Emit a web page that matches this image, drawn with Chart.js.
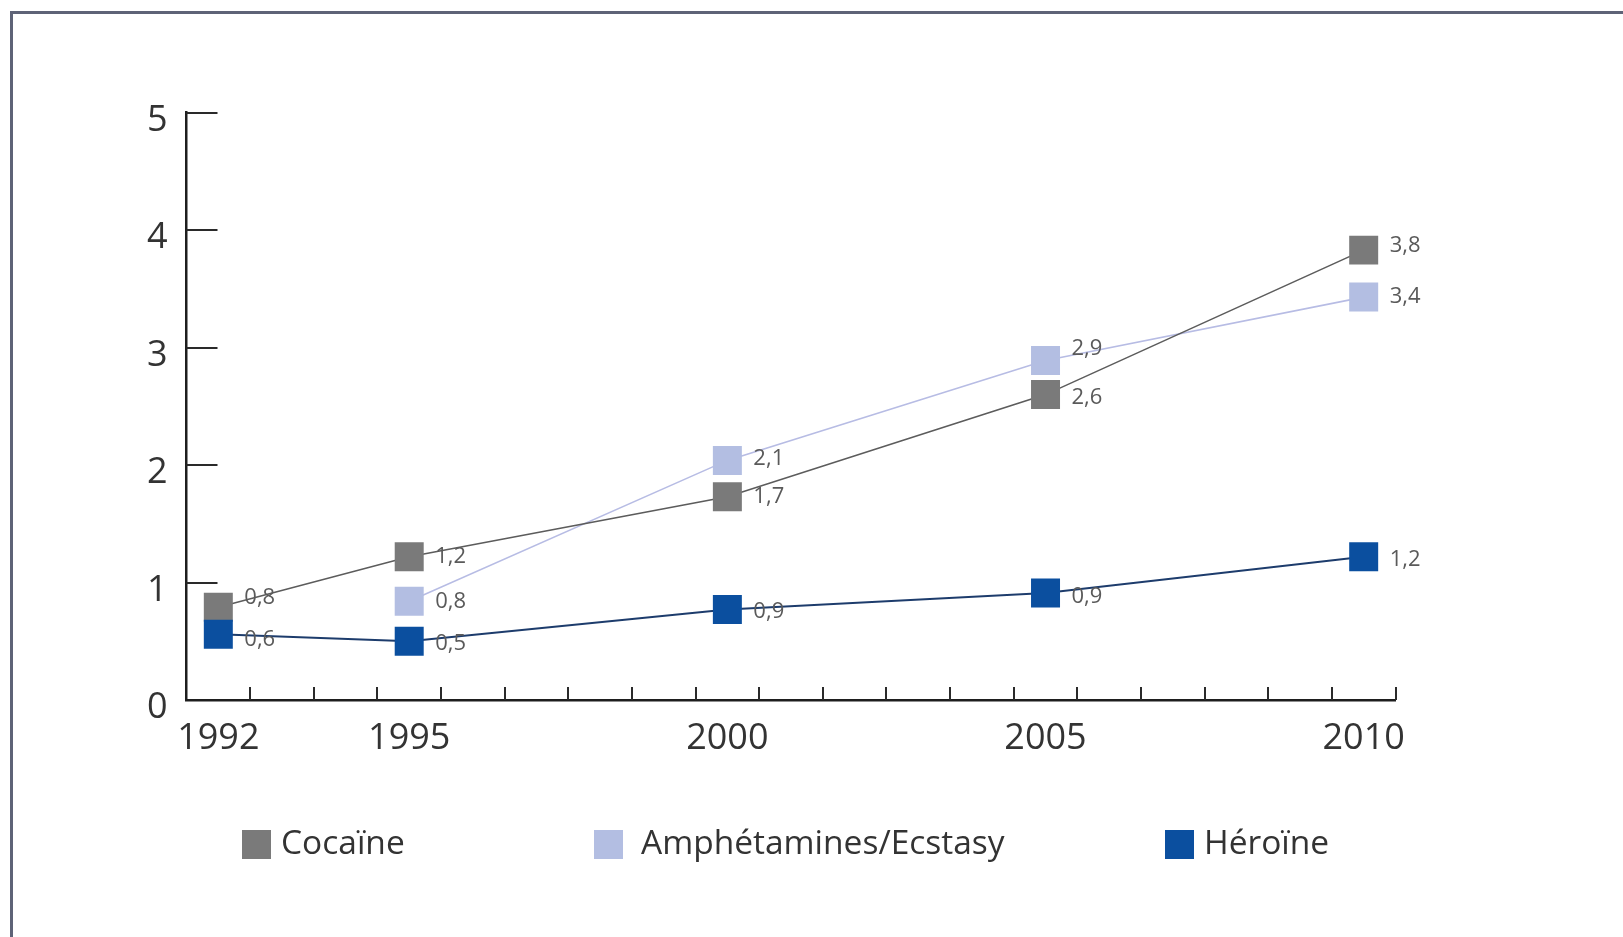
<!DOCTYPE html>
<html lang="fr">
<head>
<meta charset="utf-8">
<title>Cocaïne, Amphétamines/Ecstasy, Héroïne 1992-2010</title>
<script src="https://cdn.jsdelivr.net/npm/chart.js@4.4.1/dist/chart.umd.min.js"></script>
<style>
  html, body { margin: 0; padding: 0; background: #fff; overflow: hidden; }
  #frame {
    position: absolute; left: 10px; top: 11px; width: 1650px; height: 960px;
    border-top: 3px solid #5e6377; border-left: 3px solid #5e6377;
  }
  #wrap { position: absolute; left: 0; top: 0; width: 1623px; height: 937px; }
</style>
</head>
<body>
<div id="frame"></div>
<div id="wrap"><canvas id="chart"></canvas></div>
<script>
// x axis: one slot per year, only a few of them get a label
const years = ['1992', '1993', '1994', '1995', '1996', '1997', '1998', '1999', '2000', '2001',
               '2002', '2003', '2004', '2005', '2006', '2007', '2008', '2009', '2010'];
const shownYears = ['1992', '1995', '2000', '2005', '2010'];
const yTicks = [0, 1, 2, 3, 4, 5];

// series and the figures printed next to each marker
const cocaineYears = ['1992', '1995', '2000', '2005', '2010'];
const cocaine = [0.79, 1.22, 1.73, 2.60, 3.83];
const cocaineText = ['0,8', '1,2', '1,7', '2,6', '3,8'];

const amphYears = ['1995', '2000', '2005', '2010'];
const amphetamines = [0.84, 2.04, 2.89, 3.43];
const amphetaminesText = ['0,8', '2,1', '2,9', '3,4'];

const heroineYears = ['1992', '1995', '2000', '2005', '2010'];
const heroine = [0.56, 0.50, 0.77, 0.91, 1.22];
const heroineText = ['0,6', '0,5', '0,9', '0,9', '1,2'];

// small vertical nudges for the printed figures (px)
const labelNudge = [[-9, 0, 0, 3, -4], [0, -2, -12, 0], [6, 2, 2, 4, 3]];

const FONT = '"Open Sans", "Noto Sans", sans-serif';

function points(xs, ys) {
    return xs.map((x, i) => ({ x: x, y: ys[i] }));
}

// tick marks pointing into the plot
const innerTicks = {
    id: 'innerTicks',
    beforeDatasetsDraw(chart) {
        const { ctx, chartArea, scales: { x, y } } = chart;
        ctx.save();
        ctx.strokeStyle = '#2a2a2a';
        ctx.lineWidth = 2;
        ctx.beginPath();
        yTicks.forEach(v => {
            if (v === 0) return;
            const py = Math.round(y.getPixelForValue(v));
            ctx.moveTo(chartArea.left, py);
            ctx.lineTo(chartArea.left + 31, py);
        });
        const step = x.getPixelForValue(1) - x.getPixelForValue(0);
        years.forEach((yr, i) => {
            const px = Math.round(x.getPixelForValue(i) + step / 2);
            ctx.moveTo(px, chartArea.bottom);
            ctx.lineTo(px, chartArea.bottom - 13);
        });
        ctx.stroke();
        ctx.restore();
    }
};

// printed values right of each marker
const valueLabels = {
    id: 'valueLabels',
    afterDatasetsDraw(chart) {
        const ctx = chart.ctx;
        ctx.save();
        ctx.font = '22px ' + FONT;
        ctx.fillStyle = '#5a5a5a';
        ctx.textAlign = 'left';
        ctx.textBaseline = 'middle';
        chart.data.datasets.forEach((ds, di) => {
            chart.getDatasetMeta(di).data.forEach((pt, i) => {
                ctx.fillText(ds.valueText[i], pt.x + 26, pt.y + labelNudge[di][i]);
            });
        });
        ctx.restore();
    }
};

// legend row under the axis
const bottomLegend = {
    id: 'bottomLegend',
    afterDraw(chart) {
        const ctx = chart.ctx;
        const starts = [242, 594, 1165];
        const textGap = [39, 47, 39];
        const cy = 844;
        ctx.save();
        ctx.font = '33.5px ' + FONT;
        ctx.textAlign = 'left';
        ctx.textBaseline = 'middle';
        chart.data.datasets.forEach((ds, i) => {
            ctx.fillStyle = ds.pointBackgroundColor;
            ctx.fillRect(starts[i], cy - 14, 29, 29);
            ctx.fillStyle = '#333';
            ctx.fillText(ds.label, starts[i] + textGap[i], cy);
        });
        ctx.restore();
    }
};

function draw() {
    const ctx = document.getElementById('chart').getContext('2d');
    new Chart(ctx, {
        type: 'line',
        data: {
            labels: years,
            datasets: [
                {
                    label: 'Cocaïne',
                    data: points(cocaineYears, cocaine),
                    valueText: cocaineText,
                    borderColor: '#5c5c5c',
                    borderWidth: 1.6,
                    pointBackgroundColor: '#7a7a7a',
                    pointBorderWidth: 0,
                    order: 1
                },
                {
                    label: 'Amphétamines/Ecstasy',
                    data: points(amphYears, amphetamines),
                    valueText: amphetaminesText,
                    borderColor: '#b7bce4',
                    borderWidth: 1.6,
                    pointBackgroundColor: '#b3bee2',
                    pointBorderWidth: 0,
                    order: 2
                },
                {
                    label: 'Héroïne',
                    data: points(heroineYears, heroine),
                    valueText: heroineText,
                    borderColor: '#1d3c6c',
                    borderWidth: 2,
                    pointBackgroundColor: '#0b4f9f',
                    pointBorderWidth: 0,
                    order: 0
                }
            ]
        },
        options: {
            responsive: true,
            maintainAspectRatio: false,
            animation: false,
            spanGaps: true,
            elements: {
                line: { tension: 0, fill: false },
                point: { pointStyle: 'rect', radius: 20.5, borderWidth: 0, hoverRadius: 20.5, hoverBorderWidth: 0 }
            },
            layout: { padding: { left: 100, right: 227.5, top: 112.7, bottom: 137 } },
            plugins: {
                legend: { display: false },
                tooltip: { enabled: false }
            },
            scales: {
                x: {
                    type: 'category',
                    offset: true,
                    grid: { display: true, drawOnChartArea: false, drawTicks: false },
                    border: { display: true, color: '#1e1e1e', width: 2.5 },
                    ticks: {
                        autoSkip: false,
                        maxRotation: 0,
                        padding: 17,
                        color: '#333',
                        font: { family: FONT, size: 36 },
                        callback: function (value) {
                            const l = this.getLabelForValue(value);
                            return shownYears.includes(l) ? l : '';
                        }
                    },
                    afterFit(scale) { scale.height = 100; }
                },
                y: {
                    min: 0,
                    max: 5,
                    grid: { display: true, drawOnChartArea: false, drawTicks: false },
                    border: { display: true, color: '#1e1e1e', width: 2.5 },
                    ticks: {
                        stepSize: 1,
                        padding: 19,
                        labelOffset: 8,
                        color: '#333',
                        font: { family: FONT, size: 36 }
                    },
                    afterFit(scale) { scale.width = 86.5; }
                }
            }
        },
        plugins: [innerTicks, valueLabels, bottomLegend]
    });
}

document.fonts.load('36px "Open Sans"').then(draw, draw);
</script>
</body>
</html>
